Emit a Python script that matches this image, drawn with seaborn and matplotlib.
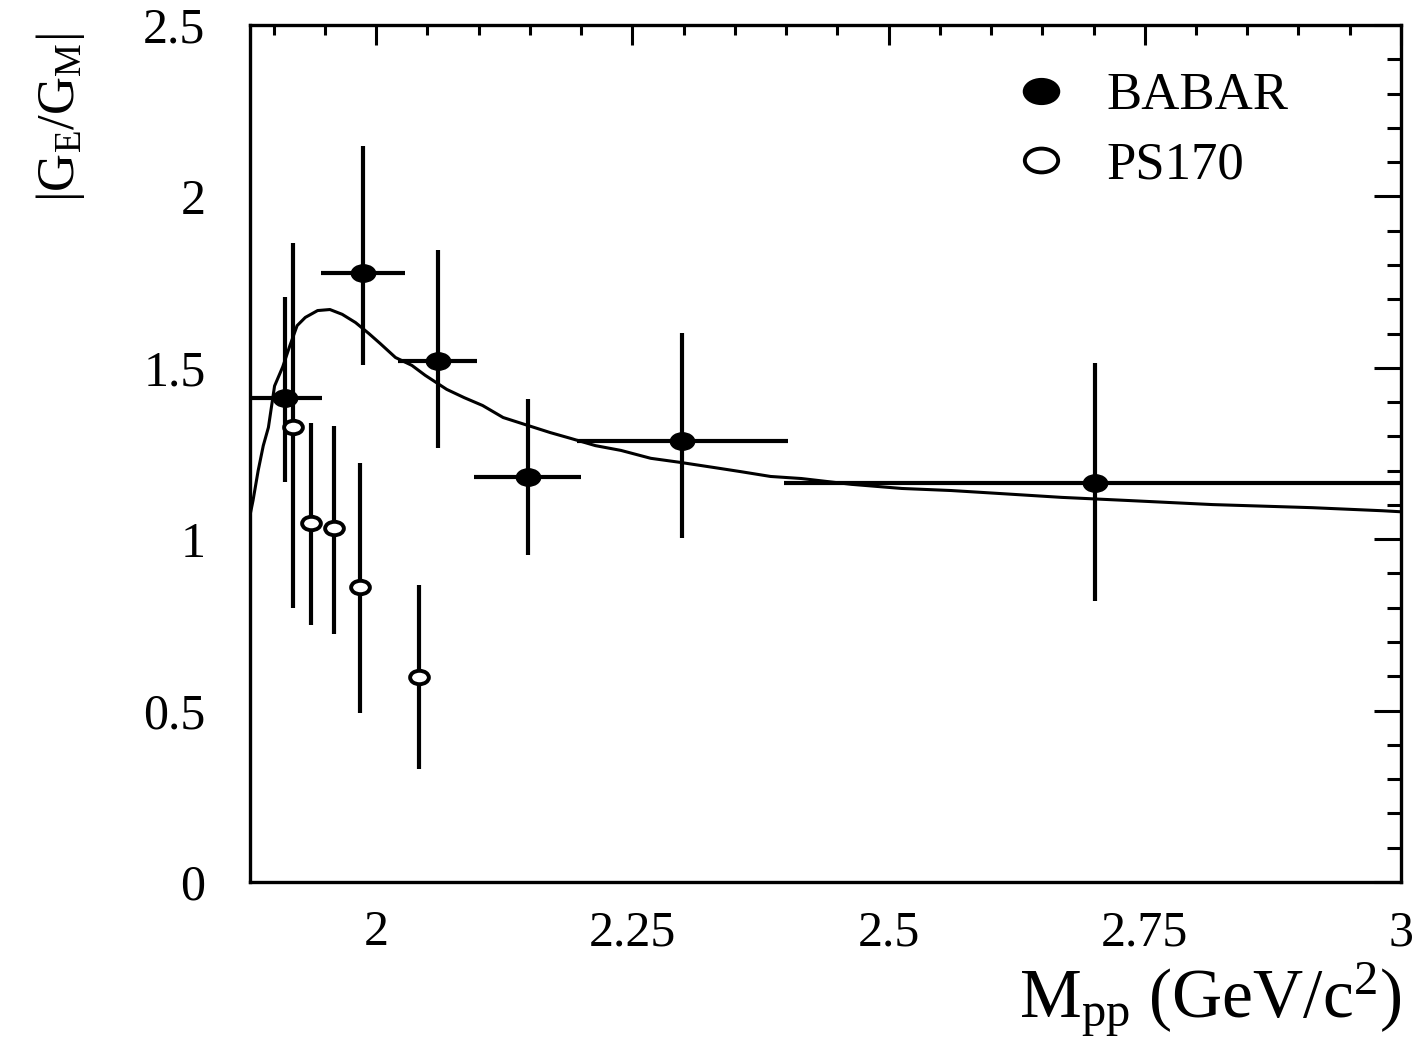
import numpy as np
import pandas as pd
import matplotlib
matplotlib.use('Agg')
import matplotlib.pyplot as plt
import seaborn as sns
from matplotlib.path import Path
from matplotlib.transforms import Affine2D
from matplotlib.lines import Line2D
from matplotlib.ticker import MultipleLocator, FixedLocator

# --- data ---
# BABAR points (filled)
babar_x = [1.911, 1.987, 2.060, 2.148, 2.299, 2.701]
babar_y = [1.412, 1.777, 1.520, 1.181, 1.287, 1.164]
babar_xerr = [0.036, 0.041, 0.039, 0.052, 0.103, 0.303]
babar_ylo = [1.167, 1.509, 1.266, 0.953, 1.003, 0.819]
babar_yhi = [1.708, 2.146, 1.845, 1.409, 1.602, 1.515]

# PS170 points (open)
ps170_x = [1.919, 1.937, 1.959, 1.984, 2.042]
ps170_y = [1.327, 1.047, 1.032, 0.860, 0.599]
ps170_ylo = [0.798, 0.751, 0.722, 0.494, 0.330]
ps170_yhi = [1.865, 1.339, 1.330, 1.222, 0.865]

# fitted curve
curve_x = [1.877, 1.880, 1.885, 1.890, 1.895, 1.901, 1.909, 1.916, 1.923,
           1.931, 1.943, 1.955, 1.967, 1.980, 1.993, 2.004, 2.019, 2.035,
           2.048, 2.069, 2.086, 2.104, 2.124, 2.148, 2.170, 2.190, 2.214,
           2.239, 2.268, 2.297, 2.330, 2.356, 2.385, 2.415, 2.464, 2.513,
           2.561, 2.610, 2.669, 2.733, 2.816, 2.913, 2.982, 3.000]
curve_y = [1.069, 1.113, 1.200, 1.273, 1.326, 1.447, 1.503, 1.565, 1.623,
           1.647, 1.667, 1.670, 1.656, 1.632, 1.600, 1.571, 1.530, 1.507,
           1.478, 1.437, 1.413, 1.390, 1.355, 1.332, 1.311, 1.294, 1.273,
           1.259, 1.236, 1.224, 1.209, 1.197, 1.183, 1.177, 1.160, 1.148,
           1.142, 1.133, 1.122, 1.113, 1.101, 1.092, 1.083, 1.080]

x_ticks = [2.0, 2.25, 2.5, 2.75, 3.0]
x_ticklabels = ['2', '2.25', '2.5', '2.75', '3']
y_ticks = [0.0, 0.5, 1.0, 1.5, 2.0, 2.5]
y_ticklabels = ['0', '0.5', '1', '1.5', '2', '2.5']

babar = pd.DataFrame({'x': babar_x, 'y': babar_y})
ps170 = pd.DataFrame({'x': ps170_x, 'y': ps170_y})
curve = pd.DataFrame({'x': curve_x, 'y': curve_y})

sns.set_theme(style='white')
plt.rcParams['font.family'] = ['Liberation Serif', 'DejaVu Serif']
plt.rcParams['mathtext.fontset'] = 'custom'
plt.rcParams['mathtext.rm'] = 'Liberation Serif'
plt.rcParams['mathtext.it'] = 'Liberation Serif:italic'
plt.rcParams['mathtext.bf'] = 'Liberation Serif:bold'
for key in ['text.color', 'axes.labelcolor', 'xtick.color', 'ytick.color',
            'xtick.labelcolor', 'ytick.labelcolor']:
    plt.rcParams[key] = 'black'

# slightly wide ellipse marker, like the stretched ROOT markers
ellipse = Path.unit_circle().transformed(Affine2D().scale(1.4, 1.0))

fig = plt.figure(figsize=(14.17, 10.38), dpi=100)
ax = fig.add_axes([0.1764, 0.1503, 0.8123, 0.8256])

# curve
sns.lineplot(data=curve, x='x', y='y', color='black', lw=2.2,
             sort=False, estimator=None, ax=ax, zorder=2)

# error bars
ax.errorbar(babar_x, babar_y, xerr=babar_xerr,
            yerr=[np.subtract(babar_y, babar_ylo), np.subtract(babar_yhi, babar_y)],
            fmt='none', ecolor='black', elinewidth=3.0, capsize=0, zorder=3)
ax.errorbar(ps170_x, ps170_y,
            yerr=[np.subtract(ps170_y, ps170_ylo), np.subtract(ps170_yhi, ps170_y)],
            fmt='none', ecolor='black', elinewidth=3.0, capsize=0, zorder=3)

# markers
sns.scatterplot(data=babar, x='x', y='y', marker=ellipse, s=17.5**2,
                color='black', edgecolor='black', linewidth=1, ax=ax, zorder=4)
sns.scatterplot(data=ps170, x='x', y='y', marker=ellipse, s=13.5**2,
                facecolor='white', edgecolor='black', linewidth=2.8, ax=ax, zorder=4)

ax.set_xlim(1.877, 3.0)
ax.set_ylim(0, 2.5)

ax.xaxis.set_major_locator(FixedLocator(x_ticks))
ax.xaxis.set_minor_locator(MultipleLocator(0.05))
ax.yaxis.set_major_locator(FixedLocator(y_ticks))
ax.yaxis.set_minor_locator(MultipleLocator(0.1))
ax.set_xticklabels(x_ticklabels)
ax.set_yticklabels(y_ticklabels)

ax.tick_params(axis='both', which='both', direction='in', top=True, right=True,
               width=2.2, colors='black', labelsize=36)
ax.tick_params(axis='x', which='major', length=14.5, pad=20)
ax.tick_params(axis='x', which='minor', length=7.5)
ax.tick_params(axis='y', which='major', length=19.5, pad=32)
ax.tick_params(axis='y', which='minor', length=10)
for sp in ax.spines.values():
    sp.set_linewidth(2.4)
    sp.set_color('black')

ax.set_xlabel(r'$\mathrm{M_{pp}\ (GeV/c^2)}$', fontsize=50, loc='right', va='center')
ax.xaxis.set_label_coords(1.0, -0.138)
ax.set_ylabel(r'$|\mathrm{G_E/G_M}|$', fontsize=38, loc='top', va='center')
ax.yaxis.set_label_coords(-0.165, 0.99)

handles = [
    Line2D([], [], ls='none', marker=ellipse, ms=26, color='black',
           markerfacecolor='black', markeredgewidth=1),
    Line2D([], [], ls='none', marker=ellipse, ms=24, color='black',
           markerfacecolor='white', markeredgewidth=2.8),
]
ax.legend(handles, ['BABAR', 'PS170'], loc='upper left',
          bbox_to_anchor=(0.664, 0.945), frameon=False, fontsize=38,
          handlelength=1.0, handletextpad=0.75, labelspacing=0.4,
          borderpad=0, borderaxespad=0)

fig.savefig('out.png', dpi=100)
